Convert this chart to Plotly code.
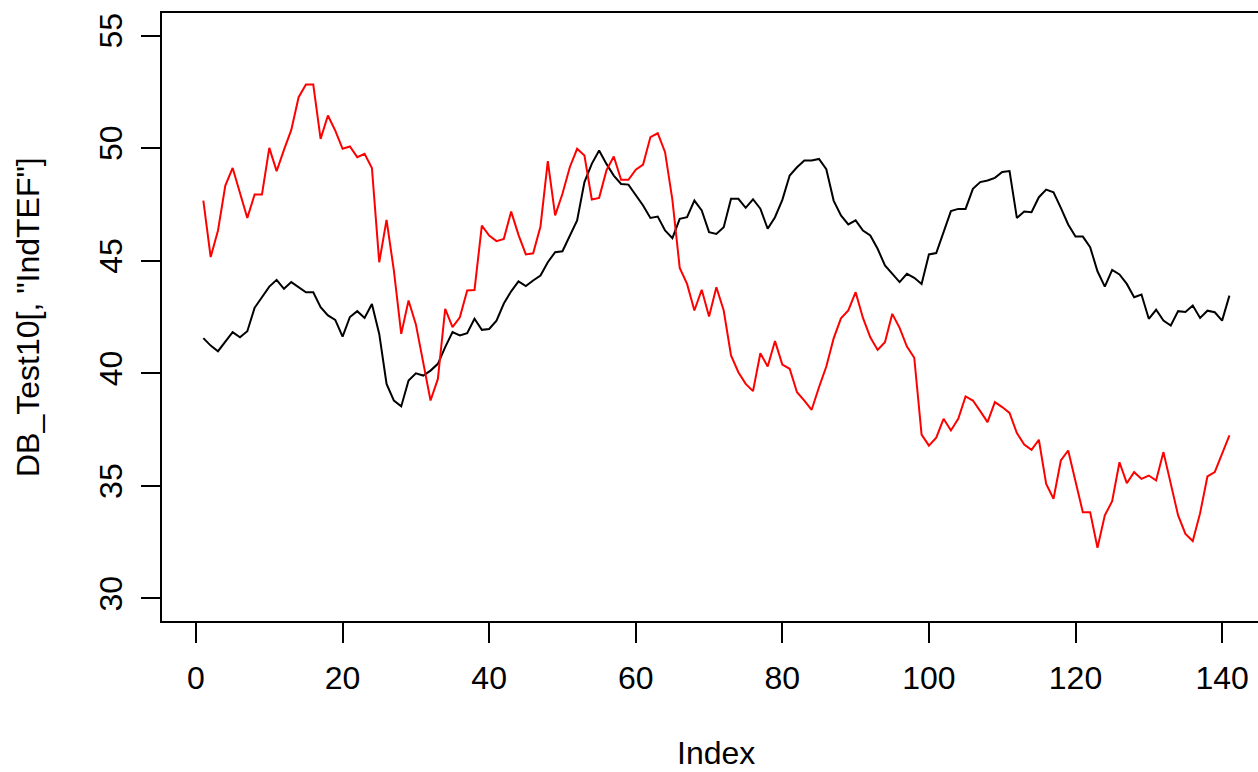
import plotly.graph_objects as go

# Index 1..141
index = list(range(1, 142))

ind_tef_black = [
    41.56, 41.23, 40.98, 41.38, 41.83, 41.60, 41.87, 42.91, 43.41, 43.85,
    44.15, 43.75, 44.05, 43.82, 43.60, 43.60, 42.94, 42.57, 42.37, 41.63,
    42.50, 42.76, 42.46, 43.08, 41.75, 39.53, 38.79, 38.53, 39.68, 40.00,
    39.90, 40.12, 40.42, 41.16, 41.83, 41.68, 41.78, 42.42, 41.93, 41.97,
    42.34, 43.10, 43.64, 44.08, 43.87, 44.12, 44.34, 44.93, 45.38, 45.42,
    46.12, 46.79, 48.49, 49.30, 49.89, 49.30, 48.78, 48.41, 48.38, 47.94,
    47.45, 46.90, 46.96, 46.34, 46.00, 46.86, 46.93, 47.67, 47.23, 46.27,
    46.19, 46.49, 47.75, 47.75, 47.35, 47.73, 47.31, 46.42, 46.93, 47.70,
    48.78, 49.15, 49.45, 49.45, 49.52, 49.06, 47.67, 47.01, 46.61, 46.79,
    46.34, 46.12, 45.53, 44.79, 44.42, 44.05, 44.42, 44.24, 43.97, 45.28,
    45.34, 46.27, 47.20, 47.30, 47.30, 48.19, 48.49, 48.56, 48.68, 48.94,
    48.98, 46.90, 47.18, 47.15, 47.82, 48.16, 48.04, 47.35, 46.61, 46.07,
    46.07, 45.60, 44.53, 43.85, 44.59, 44.39, 43.97, 43.38, 43.50, 42.42,
    42.82, 42.34, 42.12, 42.76, 42.72, 43.01, 42.46, 42.78, 42.71, 42.34,
    43.45,
]

ind_tef_red = [
    47.67, 45.16, 46.34, 48.34, 49.12, 48.04, 46.90, 47.94, 47.94, 50.01,
    48.98, 49.92, 50.81, 52.26, 52.82, 52.82, 50.41, 51.45, 50.78, 49.97,
    50.07, 49.60, 49.75, 49.12, 44.93, 46.81, 44.56, 41.75, 43.23, 42.17,
    40.42, 38.79, 39.75, 42.86, 42.05, 42.49, 43.68, 43.70, 46.56, 46.12,
    45.87, 45.97, 47.18, 46.15, 45.28, 45.33, 46.52, 49.42, 47.01, 47.97,
    49.15, 49.97, 49.67, 47.72, 47.79, 49.01, 49.63, 48.59, 48.59, 49.04,
    49.27, 50.49, 50.66, 49.82, 47.70, 44.68, 43.97, 42.79, 43.71, 42.52,
    43.82, 42.79, 40.79, 40.05, 39.53, 39.21, 40.89, 40.30, 41.43, 40.39,
    40.20, 39.16, 38.79, 38.38, 39.38, 40.30, 41.55, 42.44, 42.79, 43.60,
    42.46, 41.60, 41.04, 41.38, 42.64, 42.02, 41.19, 40.69, 37.28, 36.79,
    37.14, 37.98, 37.46, 37.98, 38.97, 38.79, 38.32, 37.83, 38.72, 38.50,
    38.24, 37.35, 36.84, 36.60, 37.05, 35.09, 34.43, 36.13, 36.57, 35.21,
    33.83, 33.83, 32.25, 33.69, 34.32, 36.05, 35.12, 35.61, 35.31, 35.46,
    35.24, 36.50, 35.09, 33.69, 32.87, 32.55, 33.79, 35.42, 35.61, 36.39,
    37.24,
]

x_ticks = [0, 20, 40, 60, 80, 100, 120, 140]
y_ticks = [30, 35, 40, 45, 50, 55]

FONT = "Liberation Sans, Arial, sans-serif"

fig = go.Figure()
fig.add_trace(go.Scatter(x=index, y=ind_tef_black, mode="lines",
                         line=dict(color="black", width=2), showlegend=False))
fig.add_trace(go.Scatter(x=index, y=ind_tef_red, mode="lines",
                         line=dict(color="#ff0000", width=2), showlegend=False))

fig.update_layout(
    width=1258, height=772,
    margin=dict(l=162, r=0, t=13, b=151, autoexpand=False),
    paper_bgcolor="white", plot_bgcolor="white",
    font=dict(family=FONT, size=32, color="black"),
    xaxis=dict(
        range=[-4.64, 144.9], tickmode="array", tickvals=x_ticks,
        showgrid=False, zeroline=False,
        showline=True, linecolor="black", linewidth=2, mirror=True,
        ticks="outside", ticklen=20, tickwidth=2, tickcolor="black",
        ticklabelstandoff=8,
        tickfont=dict(family=FONT, size=32, color="black"),
    ),
    yaxis=dict(
        range=[29, 56], tickmode="array", tickvals=y_ticks,
        showgrid=False, zeroline=False,
        showline=True, linecolor="black", linewidth=2,
        ticks="outside", ticklen=19, tickwidth=2, tickcolor="black",
        tickangle=-90, ticklabelstandoff=6,
        tickfont=dict(family=FONT, size=32, color="black"),
    ),
    annotations=[
        dict(text="Index", xref="paper", yref="paper",
             x=(716 - 162) / 1096, y=(621 - 753) / 608,
             xanchor="center", yanchor="middle", showarrow=False,
             font=dict(family=FONT, size=32, color="black")),
        dict(text='DB_Test10[, "IndTEF"]', xref="paper", yref="paper",
             x=(28 - 162) / 1096, y=0.5, textangle=-90,
             xanchor="center", yanchor="middle", showarrow=False,
             font=dict(family=FONT, size=32, color="black")),
    ],
)

fig.write_html("out.html", config={"displayModeBar": False})
